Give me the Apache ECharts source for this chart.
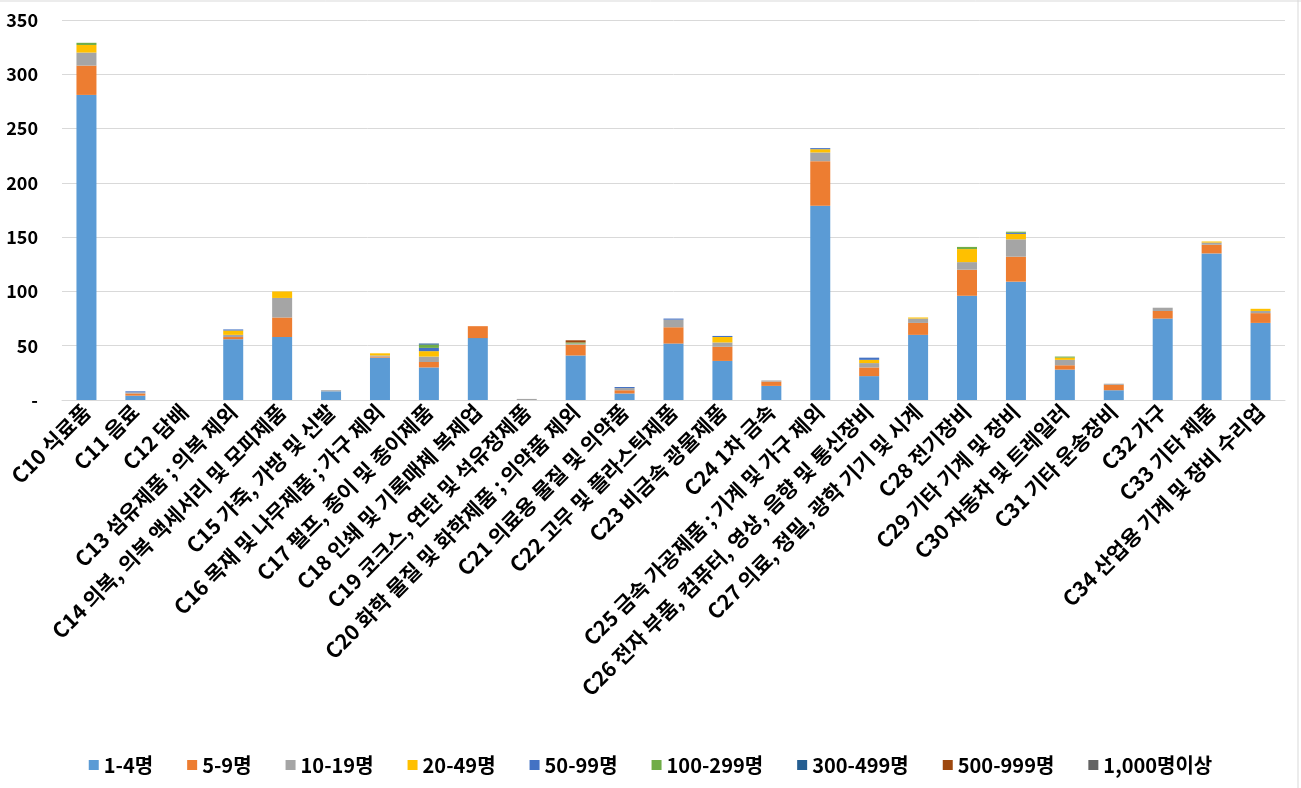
<!DOCTYPE html>
<html><head><meta charset="utf-8">
<script src="https://cdn.jsdelivr.net/npm/echarts@6/dist/echarts.min.js"></script>
<style>html,body{margin:0;padding:0;background:#fff}#c{width:1301px;height:788px}</style>
</head><body><div id="c"></div>
<script>
const categories = ["C10 식료품","C11 음료","C12 담배","C13 섬유제품 ; 의복 제외","C14 의복, 의복 액세서리 및 모피제품","C15 가죽, 가방 및 신발","C16 목재 및 나무제품 ; 가구 제외","C17 펄프, 종이 및 종이제품","C18 인쇄 및 기록매체 복제업","C19 코크스, 연탄 및 석유정제품","C20 화학 물질 및 화학제품 ; 의약품 제외","C21 의료용 물질 및 의약품","C22 고무 및 플라스틱제품","C23 비금속 광물제품","C24 1차 금속","C25 금속 가공제품 ; 기계 및 가구 제외","C26 전자 부품, 컴퓨터, 영상, 음향 및 통신장비","C27 의료, 정밀, 광학 기기 및 시계","C28 전기장비","C29 기타 기계 및 장비","C30 자동차 및 트레일러","C31 기타 운송장비","C32 가구","C33 기타 제품","C34 산업용 기계 및 장비 수리업"];
const seriesNames = ["1-4명","5-9명","10-19명","20-49명","50-99명","100-299명","300-499명","500-999명","1,000명이상"];
const s1_4     = [281,4,0,56,58,8,39,30,57,0,41,6,52,36,13,179,22,60,96,109,28,9,75,135,71];
const s5_9     = [27,2,0,2,18,0,1,5,11,0,10,3,15,13,4,41,8,11,24,23,4,5,7,8,9];
const s10_19   = [12,1,0,2,18,1,1,5,0,1,1,2,7,4,1,8,4,4,7,16,5,1,3,2,2];
const s20_49   = [7,0,0,4,6,0,2,5,0,0,0,0,0,5,0,3,3,1,12,5,2,0,0,1,2];
const s50_99   = [0,1,0,1,0,0,0,3,0,0,0,1,1,1,0,1,2,0,0,1,0,0,0,0,0];
const s100_299 = [2,0,0,0,0,0,0,3,0,0,1,0,0,0,0,0,0,0,2,1,1,0,0,0,0];
const s300_499 = [0,0,0,0,0,0,0,1,0,0,0,0,0,0,0,0,0,0,0,0,0,0,0,0,0];
const s500_999 = [0,0,0,0,0,0,0,0,0,0,2,0,0,0,0,0,0,0,0,0,0,0,0,0,0];
const s1000    = [0,0,0,0,0,0,0,0,0,0,0,0,0,0,0,0,0,0,0,0,0,0,0,0,0];
const yTicks = [0,50,100,150,200,250,300,350];

const allData = [s1_4,s5_9,s10_19,s20_49,s50_99,s100_299,s300_499,s500_999,s1000];
const colors = ["#5B9BD5","#ED7D31","#A5A5A5","#FFC000","#4472C4","#70AD47","#255E91","#9E480E","#636363"];
const FONT = '"Noto Sans CJK KR", "Noto Sans", sans-serif';

const chart = echarts.init(document.getElementById('c'));
chart.setOption({
  animation: false,
  color: colors,
  textStyle: { fontFamily: FONT },
  grid: { left: 62, right: 16, top: 20, bottom: 388, containLabel: false },
  legend: {
    bottom: 8, left: 'center', icon: 'rect', itemWidth: 10, itemHeight: 10, itemGap: 34,
    textStyle: { fontFamily: FONT, fontWeight: 'bold', fontSize: 20, color: '#000' },
    data: seriesNames
  },
  xAxis: {
    type: 'category', data: categories,
    axisLine: { lineStyle: { color: '#d9d9d9' } },
    axisTick: { show: false },
    axisLabel: { interval: 0, rotate: 45, fontFamily: FONT, fontWeight: 'bold', fontSize: 21, color: '#000', margin: 8 }
  },
  yAxis: {
    type: 'value', min: yTicks[0], max: yTicks[yTicks.length-1], interval: 50,
    axisLine: { show: false }, axisTick: { show: false },
    splitLine: { lineStyle: { color: '#d9d9d9', width: 1 } },
    axisLabel: { fontFamily: FONT, fontWeight: 'bold', fontSize: 18, color: '#000', margin: 24,
      formatter: v => v === 0 ? '-' : String(v) }
  },
  graphic: [
    { type: 'line', shape: { x1: 0, y1: 1, x2: 1301, y2: 1 }, style: { stroke: '#d9d9d9', lineWidth: 1 } },
    { type: 'line', shape: { x1: 1298, y1: 0, x2: 1298, y2: 788 }, style: { stroke: '#d9d9d9', lineWidth: 1 } }
  ],
  series: seriesNames.map((n, i) => ({
    name: n, type: 'bar', stack: 'total', barWidth: 20, data: allData[i]
  }))
});
</script></body></html>
